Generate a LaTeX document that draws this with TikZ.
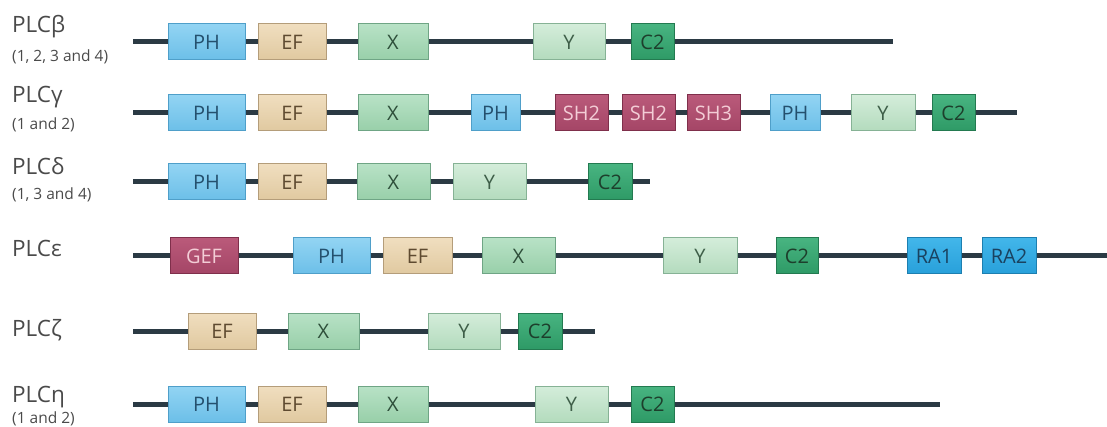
\documentclass[tikz,border=0pt]{standalone}
\usepackage{fontspec}
\setmainfont{Open Sans}
\definecolor{bbcol}{HTML}{2B3A44}
\definecolor{labcol}{HTML}{4A4A4A}
\tikzset{
  x=1pt, y=-1pt,
  dom/.style={rectangle, inner sep=0pt, minimum height=36pt, line width=1pt, font=\fontsize{20}{20}\selectfont},
  phbox/.style={dom, top color=phA, bottom color=phB, draw=phD, text=phT},
  efbox/.style={dom, top color=efA, bottom color=efB, draw=efD, text=efT},
  xbox/.style={dom, top color=xA, bottom color=xB, draw=xD, text=xT},
  ybox/.style={dom, top color=yA, bottom color=yB, draw=yD, text=yT},
  ctwobox/.style={dom, top color=cA, bottom color=cB, draw=cD, text=cT},
  shbox/.style={dom, top color=sA, bottom color=sB, draw=sD, text=sT},
  rabox/.style={dom, top color=rA, bottom color=rB, draw=rD, text=rT},
  bb/.style={draw=bbcol, line width=5pt},
  main/.style={anchor=base west, inner sep=0pt, text=labcol, font=\fontsize{22.5}{22.5}\selectfont},
  sub/.style={anchor=base west, inner sep=0pt, text=labcol, font=\fontsize{15.5}{15.5}\selectfont},
}
\definecolor{phA}{HTML}{92D4F3}\definecolor{phB}{HTML}{6CBFE8}\definecolor{phD}{HTML}{4F9FC9}\definecolor{phT}{HTML}{24506E}
\definecolor{efA}{HTML}{F0DEBF}\definecolor{efB}{HTML}{E0C9A0}\definecolor{efD}{HTML}{B49D7A}\definecolor{efT}{HTML}{5E4A30}
\definecolor{xA}{HTML}{B8E2C6}\definecolor{xB}{HTML}{98CFA9}\definecolor{xD}{HTML}{6FA585}\definecolor{xT}{HTML}{2E4F3A}
\definecolor{yA}{HTML}{D4EDDA}\definecolor{yB}{HTML}{B3DBBD}\definecolor{yD}{HTML}{86B295}\definecolor{yT}{HTML}{3E5E48}
\definecolor{cA}{HTML}{48B481}\definecolor{cB}{HTML}{2E9A66}\definecolor{cD}{HTML}{237A50}\definecolor{cT}{HTML}{1D3F2C}
\definecolor{sA}{HTML}{BA5A7A}\definecolor{sB}{HTML}{A44566}\definecolor{sD}{HTML}{7F2F4B}\definecolor{sT}{HTML}{F3CDD6}
\definecolor{rA}{HTML}{42B6EA}\definecolor{rB}{HTML}{28A0DA}\definecolor{rD}{HTML}{1D7FB0}\definecolor{rT}{HTML}{1A4260}
\newcommand{\dm}[6]{\node[#5, minimum width={(#3)-(#2)}] (#1) at ({((#2)+(#3))/2},#4) {#6};}
\begin{document}
\begin{tikzpicture}
\useasboundingbox (0,0) rectangle (1107,427);
% labels
\node[main] (l1) at (12,33) {PLCβ};
\node[sub] (s1) at (12,62) {(1, 2, 3 and 4)};
\node[main] (l2) at (12,103) {PLCγ};
\node[sub] (s2) at (12,130) {(1 and 2)};
\node[main] (l3) at (12,175) {PLCδ};
\node[sub] (s3) at (12,200) {(1, 3 and 4)};
\node[main] (l4) at (12,257) {PLCε};
\node[main] (l5) at (12,336) {PLCζ};
\node[main] (l6) at (12,402) {PLCη};
\node[sub] (s6) at (12,423) {(1 and 2)};
% row 1
\coordinate (a0) at (133,42); \coordinate (a9) at (893,42);
\dm{a1}{168}{245}{42}{phbox}{PH}
\dm{a2}{258}{326}{42}{efbox}{EF}
\dm{a3}{358}{428}{42}{xbox}{X}
\dm{a4}{533}{605}{42}{ybox}{Y}
\dm{a5}{631}{674}{42}{ctwobox}{C2}
\draw[bb] (a0) -- (a1) (a1) -- (a2) (a2) -- (a3) (a3) -- (a4) (a4) -- (a5) (a5) -- (a9);
% row 2
\coordinate (b0) at (133,113); \coordinate (b99) at (1017,113);
\dm{b1}{168}{245}{113}{phbox}{PH}
\dm{b2}{258}{326}{113}{efbox}{EF}
\dm{b3}{358}{428}{113}{xbox}{X}
\dm{b4}{471}{520}{113}{phbox}{PH}
\dm{b5}{555}{608}{113}{shbox}{SH2}
\dm{b6}{622}{675}{113}{shbox}{SH2}
\dm{b7}{687}{740}{113}{shbox}{SH3}
\dm{b8}{770}{820}{113}{phbox}{PH}
\dm{b9}{851}{915}{113}{ybox}{Y}
\dm{b10}{932}{975}{113}{ctwobox}{C2}
\draw[bb] (b0) -- (b1) (b1) -- (b2) (b2) -- (b3) (b3) -- (b4) (b4) -- (b5) (b5) -- (b6) (b6) -- (b7) (b7) -- (b8) (b8) -- (b9) (b9) -- (b10) (b10) -- (b99);
% row 3
\coordinate (c0) at (133,182); \coordinate (c9) at (650,182);
\dm{c1}{168}{245}{182}{phbox}{PH}
\dm{c2}{258}{326}{182}{efbox}{EF}
\dm{c3}{357}{430}{182}{xbox}{X}
\dm{c4}{453}{526}{182}{ybox}{Y}
\dm{c5}{588}{632}{182}{ctwobox}{C2}
\draw[bb] (c0) -- (c1) (c1) -- (c2) (c2) -- (c3) (c3) -- (c4) (c4) -- (c5) (c5) -- (c9);
% row 4
\coordinate (d0) at (133,256); \coordinate (d99) at (1107,256);
\dm{d1}{170}{238}{256}{shbox}{GEF}
\dm{d2}{293}{370}{256}{phbox}{PH}
\dm{d3}{383}{452}{256}{efbox}{EF}
\dm{d4}{482}{555}{256}{xbox}{X}
\dm{d5}{663}{737}{256}{ybox}{Y}
\dm{d6}{776}{818}{256}{ctwobox}{C2}
\dm{d7}{907}{961}{256}{rabox}{RA1}
\dm{d8}{982}{1036}{256}{rabox}{RA2}
\draw[bb] (d0) -- (d1) (d1) -- (d2) (d2) -- (d3) (d3) -- (d4) (d4) -- (d5) (d5) -- (d6) (d6) -- (d7) (d7) -- (d8) (d8) -- (d99);
% row 5
\coordinate (e0) at (133,331); \coordinate (e9) at (595,331);
\dm{e1}{188}{256}{331}{efbox}{EF}
\dm{e2}{288}{359}{331}{xbox}{X}
\dm{e3}{428}{500}{331}{ybox}{Y}
\dm{e4}{518}{562}{331}{ctwobox}{C2}
\draw[bb] (e0) -- (e1) (e1) -- (e2) (e2) -- (e3) (e3) -- (e4) (e4) -- (e9);
% row 6
\coordinate (f0) at (133,404); \coordinate (f9) at (940,404);
\dm{f1}{168}{245}{404}{phbox}{PH}
\dm{f2}{258}{326}{404}{efbox}{EF}
\dm{f3}{358}{428}{404}{xbox}{X}
\dm{f4}{535}{608}{404}{ybox}{Y}
\dm{f5}{631}{674}{404}{ctwobox}{C2}
\draw[bb] (f0) -- (f1) (f1) -- (f2) (f2) -- (f3) (f3) -- (f4) (f4) -- (f5) (f5) -- (f9);
\end{tikzpicture}
\end{document}
